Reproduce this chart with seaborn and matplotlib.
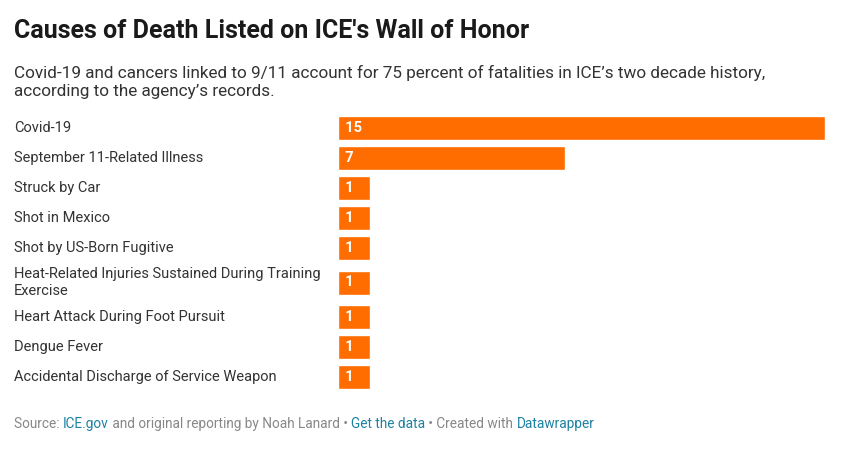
import matplotlib
matplotlib.use("Agg")
import matplotlib.pyplot as plt
import seaborn as sns
import pandas as pd

causes = ["Covid-19", "September 11-Related Illness", "Struck by Car", "Shot in Mexico",
          "Shot by US-Born Fugitive",
          "Heat-Related Injuries Sustained During Training\nExercise",
          "Heart Attack During Foot Pursuit", "Dengue Fever",
          "Accidental Discharge of Service Weapon"]
deaths = [15, 7, 1, 1, 1, 1, 1, 1, 1]

# row positions from label line counts
ypos, cur = [], 0
for c in causes:
    h = 30 + 9 * c.count("\n")
    ypos.append(cur + h / 2)
    cur += h
total = cur

df = pd.DataFrame({"cause": causes, "deaths": deaths, "y": ypos})

W, H = 843, 458
fig = plt.figure(figsize=(W / 100, H / 100), dpi=100)
sns.set_style("white")
plt.rcParams["font.family"] = ["Roboto", "DejaVu Sans"]

ax = fig.add_axes([338 / W, 1 - (113 + total) / H, (825 - 338) / W, total / H])
sns.barplot(data=df, x="deaths", y="y", orient="y", native_scale=True, width=0.8,
            color="#ff6c00", saturation=1, ax=ax)
ax.set_xlim(0, 15)
ax.set_ylim(total, 0)
ax.axis("off")

for c, v, y in zip(causes, deaths, ypos):
    ax.text(0.0, y, f"  {v}", color="white", fontweight="bold", fontsize=10.5,
            va="center", ha="left")
    fig.text(14 / W, 1 - (113 + y) / H, c, fontsize=10.5, color="#333333",
             va="center", ha="left", linespacing=1.2)

fig.text(14 / W, 1 - 31 / H, "Causes of Death Listed on ICE's Wall of Honor",
         fontsize=18, fontweight="bold", color="#1a1a1a", va="center")
fig.text(14 / W, 1 - 82 / H,
         "Covid-19 and cancers linked to 9/11 account for 75 percent of fatalities in ICE’s two decade history,\naccording to the agency’s records.",
         fontsize=12.3, color="#333333", va="center", linespacing=1.3)

# footer with mixed colours
parts = [("Source: ", "#888888"), ("ICE.gov", "#1d81a2"),
         (" and original reporting by Noah Lanard • ", "#888888"),
         ("Get the data", "#1d81a2"), (" • Created with ", "#888888"),
         ("Datawrapper", "#1d81a2")]
fig.canvas.draw()
r = fig.canvas.get_renderer()
x = 14
for s, col in parts:
    t = fig.text(x / W, 1 - 424 / H, s, fontsize=9.8, color=col, va="center")
    x += t.get_window_extent(renderer=r).width

fig.savefig("out.png", dpi=100)
